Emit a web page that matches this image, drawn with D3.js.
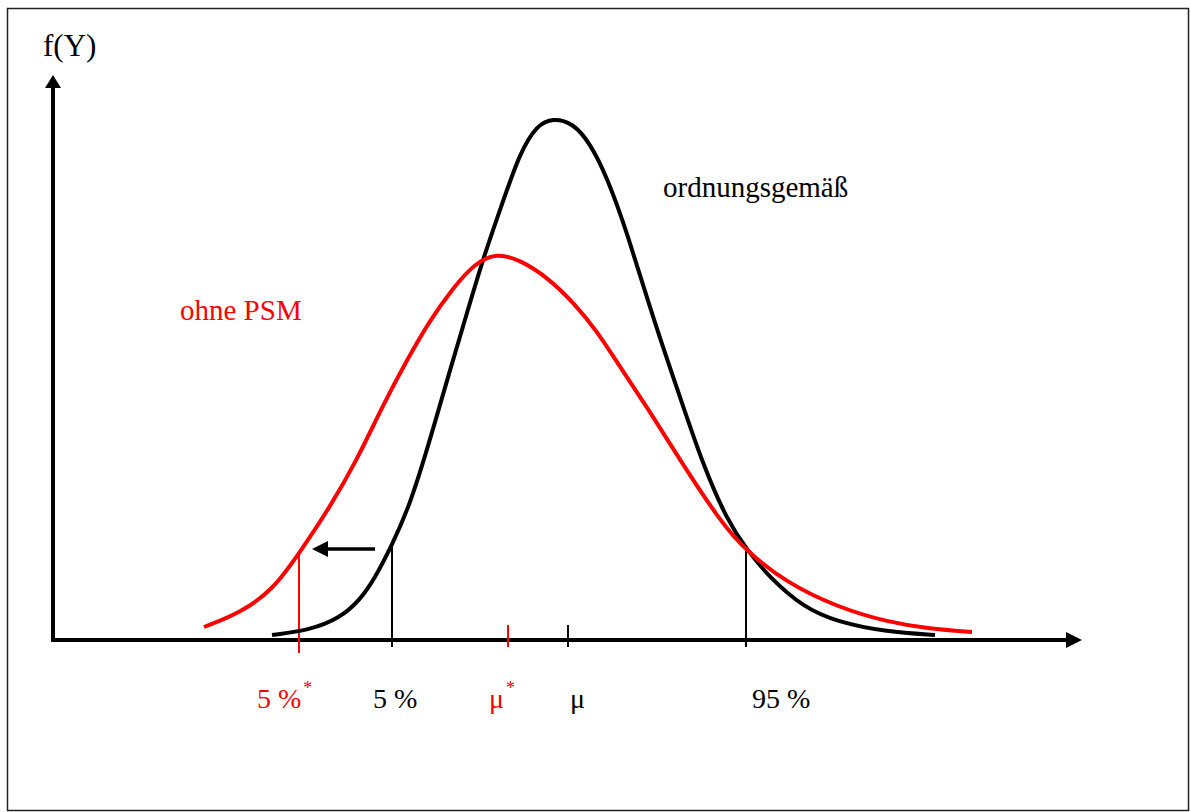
<!DOCTYPE html>
<meta charset="utf-8">
<script src="https://d3js.org/d3.v7.min.js"></script>
<style>
  body { margin: 0; background: #fff; }
  text { font-family: "Liberation Serif", "Times New Roman", serif; }
</style>
<div id="chart"></div>
<script>
// curves: position along the Y axis, density f(Y) above it
const normalX = [219, 257, 287, 307, 322, 339, 357, 377, 397, 414, 429, 447, 467, 484, 500, 520, 537, 554, 574, 600, 627, 650, 674, 694, 717, 750, 784, 834, 882];
const normalF = [5, 10, 22, 40, 62, 95, 135, 200, 270, 327, 378, 430, 488, 515, 522, 517, 497, 463, 408, 322, 243, 175, 120, 90, 62, 33, 18, 8, 5];

const noPsmX = [151, 187, 220, 247, 277, 304, 330, 354, 377, 400, 422, 444, 467, 494, 520, 544, 567, 594, 627, 667, 693, 734, 784, 834, 877, 919];
const noPsmF = [13, 27, 50, 88, 133, 180, 235, 280, 320, 352, 377, 387, 380, 363, 338, 309, 273, 233, 180, 119, 89, 57, 33, 18, 11, 8];

// quantiles / means marked on the axis
const markerLabels = ["5 %", "5 %", "μ", "μ", "95 %"];
const markerStars = [true, false, true, false, false];
const markerSeries = ["ohne PSM", "ordnungsgemäß", "ohne PSM", "ordnungsgemäß", "ordnungsgemäß"];
const markerX = [246, 339, 455, 515, 693];
const markerF = [88, 97, 15, 15, 90];
const labelX = [204, 320, 436, 517, 699];

const seriesNames = ["ordnungsgemäß", "ohne PSM"];
const seriesLabelX = [610, 127];
const seriesLabelF = [443, 320];

// shift of the 5 % quantile
const shiftFrom = 322, shiftTo = 259, shiftF = 91;

const W = 1191, H = 812;

const svg = d3.select("#chart")
  .append("svg")
  .attr("width", W)
  .attr("height", H);

// outer frame
svg.append("rect")
  .attr("x", 7.5).attr("y", 8.5)
  .attr("width", 1181).attr("height", 802)
  .attr("fill", "none")
  .attr("stroke", "#222")
  .attr("stroke-width", 1.5);

const x = d3.scaleLinear().domain([0, 1029]).range([53, 1082]);
const y = d3.scaleLinear().domain([0, 565]).range([640, 75]);

const color = d3.scaleOrdinal()
  .domain(seriesNames)
  .range(["#000000", "#ff0000"]);

// axes with arrow heads
svg.append("line")
  .attr("x1", x(0)).attr("y1", y(0))
  .attr("x2", x(1029) - 12).attr("y2", y(0))
  .attr("stroke", "#000").attr("stroke-width", 4);
svg.append("path")
  .attr("d", `M${x(1029)},${y(0)} L${x(1029) - 16},${y(0) - 8} L${x(1029) - 16},${y(0) + 8} Z`)
  .attr("fill", "#000");

svg.append("line")
  .attr("x1", x(0)).attr("y1", y(0) + 2)
  .attr("x2", x(0)).attr("y2", y(565) + 12)
  .attr("stroke", "#000").attr("stroke-width", 4);
svg.append("path")
  .attr("d", `M${x(0)},${y(565)} L${x(0) - 8},${y(565) + 13} L${x(0) + 8},${y(565) + 13} Z`)
  .attr("fill", "#000");

svg.append("text")
  .attr("x", 43).attr("y", 56)
  .style("font-size", "31px")
  .text("f(Y)");

// marker lines
const markers = markerX.map((v, i) => ({
  x: v, f: markerF[i], series: markerSeries[i],
  label: markerLabels[i], star: markerStars[i], lx: labelX[i]
}));

svg.append("g")
  .selectAll("line")
  .data(markers)
  .join("line")
    .attr("x1", d => x(d.x)).attr("x2", d => x(d.x))
    .attr("y1", d => y(d.f))
    .attr("y2", d => y(0) + (d.star && d.f > 50 ? 13 : 7))
    .attr("stroke", d => color(d.series))
    .attr("stroke-width", 2);

// curves
const line = d3.line()
  .x(d => x(d[0]))
  .y(d => y(d[1]))
  .curve(d3.curveBasis);

const curves = [
  { name: "ordnungsgemäß", pts: d3.zip(normalX, normalF) },
  { name: "ohne PSM", pts: d3.zip(noPsmX, noPsmF) }
];

svg.append("g")
  .selectAll("path")
  .data(curves)
  .join("path")
    .attr("d", d => line(d.pts))
    .attr("fill", "none")
    .attr("stroke", d => color(d.name))
    .attr("stroke-width", 4)
    .attr("stroke-linecap", "butt");

// marker labels
const lbl = svg.append("g")
  .selectAll("text")
  .data(markers)
  .join("text")
    .attr("x", d => x(d.lx))
    .attr("y", 708)
    .attr("fill", d => color(d.series))
    .style("font-size", "28px");
lbl.append("tspan").text(d => d.label);
lbl.filter(d => d.star)
  .append("tspan")
    .attr("dy", -14)
    .attr("dx", 2)
    .style("font-size", "18px")
    .text("*");

// series labels
svg.append("g")
  .selectAll("text")
  .data(seriesNames)
  .join("text")
    .attr("x", (d, i) => x(seriesLabelX[i]))
    .attr("y", (d, i) => y(seriesLabelF[i]))
    .attr("fill", d => color(d))
    .style("font-size", "29px")
    .text(d => d);

// shift arrow
svg.append("line")
  .attr("x1", x(shiftFrom)).attr("y1", y(shiftF))
  .attr("x2", x(shiftTo) + 12).attr("y2", y(shiftF))
  .attr("stroke", "#000").attr("stroke-width", 3.5);
svg.append("path")
  .attr("d", `M${x(shiftTo)},${y(shiftF)} L${x(shiftTo) + 16},${y(shiftF) - 8} L${x(shiftTo) + 16},${y(shiftF) + 8} Z`)
  .attr("fill", "#000");
</script>
